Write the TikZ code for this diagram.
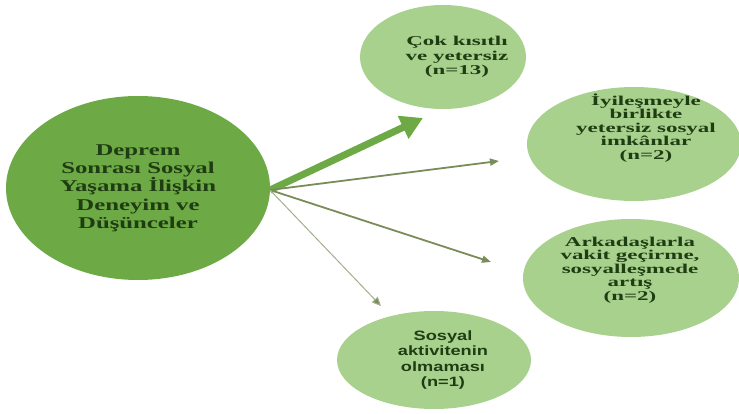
\documentclass[tikz,border=0pt]{standalone}
\usepackage{fontspec}
\setmainfont{Liberation Serif}[FakeStretch=1.5]
\newfontfamily\themeserif{Liberation Serif}[FakeStretch=1.7]
\newfontfamily\themesans{Liberation Sans}[FakeStretch=1.35]
\usetikzlibrary{arrows.meta, shapes.geometric}
\definecolor{darkleaf}{HTML}{6DAA45}
\definecolor{lightleaf}{HTML}{A9D18E}
\definecolor{inkgreen}{HTML}{1F3D12}
\definecolor{olivearrow}{HTML}{7A8C5A}
\begin{document}
\begin{tikzpicture}
[x=1pt, y=-1pt]
\tikzstyle{mainidea}=[ellipse, fill=darkleaf, text=inkgreen, minimum width=264pt, minimum height=184pt, align=center, inner sep=0pt, font=\fontsize{16.5}{18.3}\selectfont\bfseries]
\tikzstyle{theme}=[ellipse, fill=lightleaf, inner sep=0pt]
\tikzstyle{themetext}=[text=inkgreen, align=center, inner sep=0pt, font=\fontsize{13.5}{13.6}\themeserif\bfseries]
\tikzstyle{link}=[draw=olivearrow, -{Triangle[length=9pt, width=7pt]}]
\useasboundingbox (0,0) rectangle (739,414);

\node[mainidea]	(D)	at (138,188) {Deprem\\Sonrası Sosyal\\Yaşama İlişkin\\Deneyim ve\\Düşünceler};

\node[theme, minimum width=166pt, minimum height=104pt]	(T1)	at (443,57) {};
\node[theme, minimum width=214pt, minimum height=114pt]	(T2)	at (634,144) {};
\node[theme, minimum width=216pt, minimum height=118pt]	(T3)	at (631,278) {};
\node[theme, minimum width=194pt, minimum height=98pt]	(T4)	at (434,360) {};

\node[themetext, font=\fontsize{13.5}{14.5}\themeserif\bfseries]	(T1t)	at (457,57) {Çok kısıtlı\\ve yetersiz\\(n=13)};
\node[themetext]	(T2t)	at (646,128) {İyileşmeyle\\birlikte\\yetersiz sosyal\\imkânlar\\(n=2)};
\node[themetext]	(T3t)	at (630,270) {Arkadaşlarla\\vakit geçirme,\\sosyalleşmede\\artış\\(n=2)};
\node[themetext, font=\fontsize{13.5}{15.2}\themesans\bfseries]	(T4t)	at (443,360) {Sosyal\\aktivitenin\\olmaması\\(n=1)};

\coordinate (hub) at (270,190);
\coordinate (e1) at (423,118);
\coordinate (e2) at (499,161);
\coordinate (e3) at (491,262);
\coordinate (e4) at (381,306);

\draw[darkleaf, line width=7pt, -{Triangle[length=22pt, width=24pt]}] (hub)--(e1);
\draw[link, line width=1.8pt] (hub)--(e2);
\draw[link, line width=1.8pt] (hub)--(e3);
\draw[link, draw=olivearrow!70, line width=1pt, -{Triangle[length=9pt, width=8pt, fill=olivearrow]}] (hub)--(e4);

\end{tikzpicture}
\end{document}
